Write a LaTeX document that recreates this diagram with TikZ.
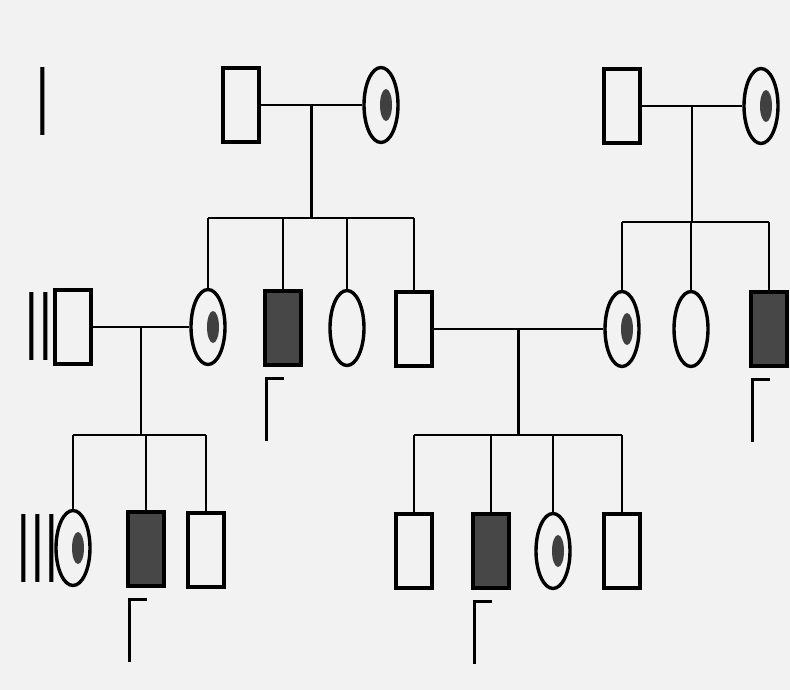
\documentclass[tikz,border=0pt]{standalone}
\usepackage{tikz}
\usetikzlibrary{shapes.geometric, calc, positioning}
\tikzstyle{male} = [rectangle, draw, line width=3.4pt, minimum width=36pt, minimum height=74pt, inner sep=0pt]
\tikzstyle{female} = [ellipse, draw, line width=3.4pt, minimum width=34pt, minimum height=75pt, inner sep=0pt]
\tikzstyle{affected} = [male, fill=black!72]
\tikzstyle{carrier} = [female, path picture={\fill[black!75] ([xshift=5pt]path picture bounding box.center) ellipse (6pt and 16pt);}]
\tikzstyle{line} = [line width=2.2pt]
\tikzstyle{gen} = [inner sep=0pt, font=\sffamily\fontsize{98}{98}\selectfont, xscale=0.5]
\tikzset{mark/.pic={\draw[line width=3.4pt] (0,62) -- (0,0) -- (18,0);}}

\begin{document}
\begin{tikzpicture}[x=1pt, y=-1pt]
        \fill[black!5] (0,0) rectangle (790,690);
        \useasboundingbox (0,0) rectangle (790,690);
        % generation labels
        \node[gen] (g1) at (43,101) {I};
        \node[gen] (g2) at (39,326) {II};
        \node[gen] (g3) at (38,548) {III};
        % generation I
        \node[male] (A1) at (241,105) {};
        \node[carrier] (A2) at (381,105) {};
        \node[male] (B1) at (622,106) {};
        \node[carrier] (B2) at (761,106) {};
        % generation II
        \node[male] (P1) at (73,327) {};
        \node[carrier] (P2) at (208,327) {};
        \node[affected] (P3) at (283,328) {};
        \node[female] (P4) at (347,328) {};
        \node[male] (P5) at (414,329) {};
        \node[carrier] (P6) at (622,329) {};
        \node[female] (P7) at (691,329) {};
        \node[affected] (P8) at (769,329) {};
        % generation III
        \node[carrier] (Q1) at (73,548) {};
        \node[affected] (Q2) at (146,549) {};
        \node[male] (Q3) at (206,550) {};
        \node[male] (R1) at (414,551) {};
        \node[affected] (R2) at (491,551) {};
        \node[carrier] (R3) at (553,551) {};
        \node[male] (R4) at (622,551) {};
        % couples
        \draw[line] (A1) -- (A2);
        \draw[line] (B1) -- (B2);
        \draw[line] (P1) -- (P2);
        \draw[line] (P5.east) -- (P6.west);
        \coordinate (m1) at ($(A1.east)!0.5!(A2.west)$);
        \coordinate (m2) at ($(B1.east)!0.5!(B2.west)$);
        \coordinate (m3) at ($(P1.east)!0.5!(P2.west)$);
        \coordinate (m4) at ($(P5.east)!0.5!(P6.west)$);
        \coordinate (s1) at (m1 |- 0,218);
        \coordinate (s2) at (m2 |- 0,222);
        \coordinate (s3) at (m3 |- 0,435);
        \coordinate (s4) at (m4 |- 0,435);
        \draw[line] (m1) -- (s1);
        \draw[line] (m2) -- (s2);
        \draw[line] (m3) -- (s3);
        \draw[line] (m4) -- (s4);
        % sibships
        \draw[line] (P2.north |- s1) -- (P5.north |- s1);
        \foreach \c in {P2,P3,P4,P5} \draw[line] (\c.north) -- (\c.north |- s1);
        \draw[line] (P6.north |- s2) -- (P8.north |- s2);
        \foreach \c in {P6,P7,P8} \draw[line] (\c.north) -- (\c.north |- s2);
        \draw[line] (Q1.north |- s3) -- (Q3.north |- s3);
        \foreach \c in {Q1,Q2,Q3} \draw[line] (\c.north) -- (\c.north |- s3);
        \draw[line] (R1.north |- s4) -- (R4.north |- s4);
        \foreach \c in {R1,R2,R3,R4} \draw[line] (\c.north) -- (\c.north |- s4);
        % marks under affected males
        \foreach \c in {P3,P8,Q2,R2} \pic at ([shift={(3,12)}]\c.south west) {mark};
    \end{tikzpicture}
\end{document}
